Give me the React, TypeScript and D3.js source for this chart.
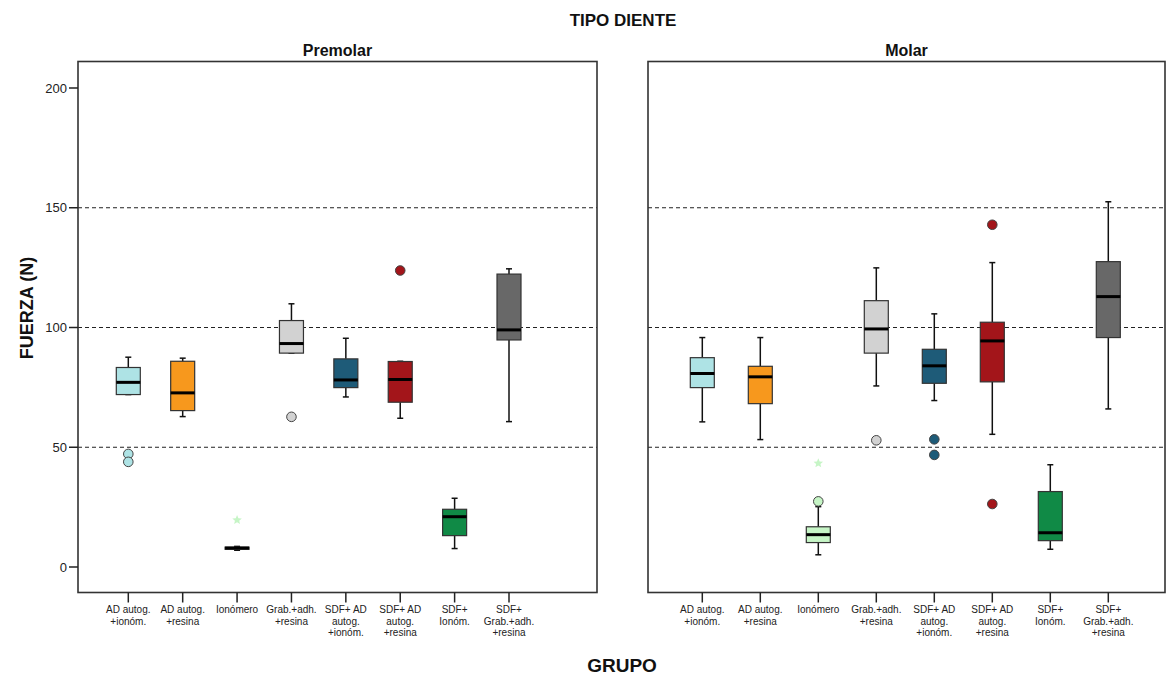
import React from "react";
import * as d3 from "d3";

const groups = [
  "AD autog.\n+ionóm.",
  "AD autog.\n+resina",
  "Ionómero",
  "Grab.+adh.\n+resina",
  "SDF+ AD\nautog.\n+ionóm.",
  "SDF+ AD\nautog.\n+resina",
  "SDF+\nIonóm.",
  "SDF+\nGrab.+adh.\n+resina",
];
const colors = ["#aee3e5", "#f7981d", "#c6f5c6", "#d2d2d2", "#1e5b78", "#a3151a", "#108a46", "#686868"];
const panels = ["Premolar", "Molar"];
const yTicks = [0, 50, 100, 150, 200];
const gridValues = [50, 100, 150];

// [whiskerLow, q1, median, q3, whiskerHigh]
const premolarStats = [
  [72.0, 72.0, 77.1, 83.3, 87.6],
  [62.8, 65.3, 72.7, 85.9, 87.2],
  [7.0, 7.4, 7.9, 8.3, 8.6],
  [89.3, 89.3, 93.3, 102.9, 109.9],
  [71.0, 74.9, 78.1, 86.9, 95.5],
  [62.1, 68.8, 78.3, 85.8, 85.9],
  [7.7, 13.1, 21.0, 24.1, 28.7],
  [60.7, 94.8, 99.0, 122.3, 124.5],
];
const molarStats = [
  [60.6, 74.9, 80.8, 87.4, 95.8],
  [53.2, 68.2, 79.4, 83.8, 95.8],
  [5.1, 10.2, 13.5, 16.8, 25.2],
  [75.6, 89.3, 99.4, 111.2, 124.9],
  [69.5, 76.7, 84.0, 90.9, 105.7],
  [55.4, 77.3, 94.4, 102.2, 127.1],
  [7.4, 11.0, 14.3, 31.5, 42.7],
  [66.0, 95.8, 112.9, 127.5, 152.5],
];
// outliers: [groupIndex, value]
const premolarOutliers = [[0, 47.2], [0, 43.9], [3, 62.7], [5, 123.8]];
const molarOutliers = [[2, 27.4], [3, 52.9], [4, 53.3], [4, 46.8], [5, 142.9], [5, 26.3]];
// extreme values (stars): [groupIndex, value]
const premolarExtremes = [[2, 19.6]];
const molarExtremes = [[2, 43.3]];

const FONT = "'Liberation Sans', Arial, Helvetica, sans-serif";

const layouts = [
  { x0: 78, x1: 597, c0: 128.3, c1: 509 },
  { x0: 648, x1: 1165, c0: 702.3, c1: 1108.3 },
];
const top = 61.5;
const bottom = 592.5;

const y = d3.scaleLinear().domain([0, 200]).range([567, 88]);

function starPath(cx: number, cy: number, r: number) {
  const pts: string[] = [];
  for (let i = 0; i < 10; i++) {
    const a = (Math.PI / 5) * i - Math.PI / 2;
    const rr = i % 2 === 0 ? r : r * 0.45;
    pts.push(`${cx + rr * Math.cos(a)},${cy + rr * Math.sin(a)}`);
  }
  return "M" + pts.join("L") + "Z";
}

function Panel({ idx }: { idx: number }) {
  const L = layouts[idx];
  const stats = idx === 0 ? premolarStats : molarStats;
  const outliers = idx === 0 ? premolarOutliers : molarOutliers;
  const extremes = idx === 0 ? premolarExtremes : molarExtremes;
  const x = d3.scalePoint<number>().domain(d3.range(groups.length)).range([L.c0, L.c1]);
  const bw = 24;
  const capW = 6;
  return (
    <g>
      <text x={(L.x0 + L.x1) / 2} y={56} textAnchor="middle" fontFamily={FONT} fontWeight="bold" fontSize={16} fill="#111">
        {panels[idx]}
      </text>
      {gridValues.map((v) => (
        <line key={v} x1={L.x0} x2={L.x1} y1={y(v)} y2={y(v)} stroke="#222" strokeWidth={1.1} strokeDasharray="4,3" />
      ))}
      {stats.map((s, i) => {
        const cx = x(i)!;
        const [wl, q1, med, q3, wh] = s;
        return (
          <g key={i}>
            <line x1={cx} x2={cx} y1={y(wh)} y2={y(q3)} stroke="#111" strokeWidth={1.5} />
            <line x1={cx} x2={cx} y1={y(q1)} y2={y(wl)} stroke="#111" strokeWidth={1.5} />
            <line x1={cx - capW / 2} x2={cx + capW / 2} y1={y(wh)} y2={y(wh)} stroke="#111" strokeWidth={1.5} />
            <line x1={cx - capW / 2} x2={cx + capW / 2} y1={y(wl)} y2={y(wl)} stroke="#111" strokeWidth={1.5} />
            <rect x={cx - bw / 2} y={y(q3)} width={bw} height={Math.max(1, y(q1) - y(q3))} fill={colors[i]} stroke="#333" strokeWidth={1.2} />
            <line x1={cx - bw / 2} x2={cx + bw / 2} y1={y(med)} y2={y(med)} stroke="#000" strokeWidth={3} />
          </g>
        );
      })}
      {outliers.map(([g, v], k) => (
        <circle key={"o" + k} cx={x(g)!} cy={y(v)} r={4.8} fill={colors[g]} stroke="#444" strokeWidth={1} />
      ))}
      {extremes.map(([g, v], k) => (
        <path key={"e" + k} d={starPath(x(g)!, y(v), 5)} fill={colors[g]} stroke="none" />
      ))}
      <rect x={L.x0} y={top} width={L.x1 - L.x0} height={bottom - top} fill="none" stroke="#333" strokeWidth={1.6} />
      {groups.map((g, i) => {
        const cx = x(i)!;
        const lines = g.split("\n");
        return (
          <g key={"t" + i}>
            <line x1={cx} x2={cx} y1={bottom} y2={bottom + 10} stroke="#222" strokeWidth={1.5} />
            <text textAnchor="middle" fontFamily={FONT} fontSize={10} fill="#222">
              {lines.map((ln, j) => (
                <tspan key={j} x={cx} y={613 + j * 11.5}>
                  {ln}
                </tspan>
              ))}
            </text>
          </g>
        );
      })}
      {idx === 0 &&
        yTicks.map((t) => (
          <g key={"y" + t}>
            <line x1={L.x0 - 9} x2={L.x0} y1={y(t)} y2={y(t)} stroke="#222" strokeWidth={1.5} />
            <text x={L.x0 - 11} y={y(t)} dy="0.35em" textAnchor="end" fontFamily={FONT} fontSize={13} fill="#222">
              {t}
            </text>
          </g>
        ))}
    </g>
  );
}

export default function App() {
  return (
    <svg width={1166} height={678} style={{ position: "absolute", left: 0, top: 0, background: "#fff" }}>
      <rect width={1166} height={678} fill="#fff" />
      <text x={623} y={26} textAnchor="middle" fontFamily={FONT} fontWeight="bold" fontSize={17} fill="#111">
        TIPO DIENTE
      </text>
      <Panel idx={0} />
      <Panel idx={1} />
      <text
        transform={`translate(33,308) rotate(-90)`}
        textAnchor="middle"
        fontFamily={FONT}
        fontWeight="bold"
        fontSize={18}
        fill="#111"
      >
        FUERZA (N)
      </text>
      <text x={622} y={672} textAnchor="middle" fontFamily={FONT} fontWeight="bold" fontSize={19} fill="#111">
        GRUPO
      </text>
    </svg>
  );
}
